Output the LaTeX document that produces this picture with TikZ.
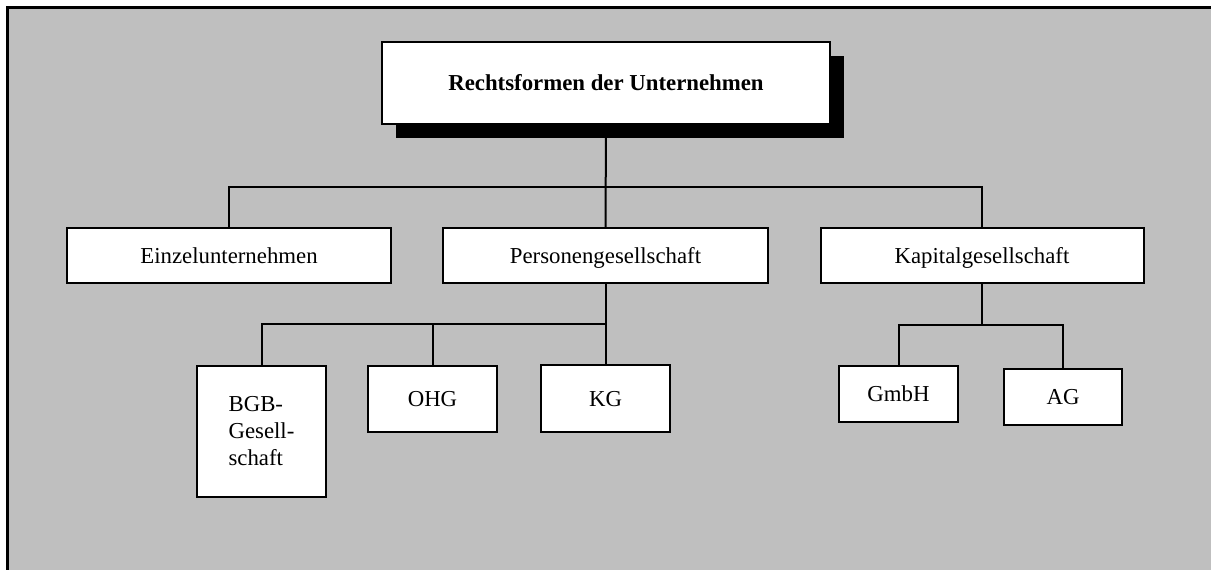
\documentclass[tikz,border=0pt]{standalone}
\usepackage{fontspec}
\setmainfont{Liberation Serif}
\usetikzlibrary{shadows}
\definecolor{panel}{RGB}{191,191,191}
\tikzset{
  orgbox/.style={draw=black,fill=white,line width=2pt,inner sep=0pt,
    font=\fontsize{22.8}{27}\selectfont},
  onebox/.style={orgbox,text height=15.5pt,text depth=0pt},
  link/.style={line width=2pt}
}

\begin{document}
\begin{tikzpicture}[x=1pt,y=-1pt]
  \useasboundingbox (0,0) rectangle (1211,570);
  % Grey panel with frame on two sides
  \fill[panel] (7,7) rectangle (1211,570);
  \draw[line width=3pt] (7,570) -- (7,7) -- (1211,7);

  % Top box
  \node[onebox,minimum width=448pt,minimum height=82pt,
        font=\fontsize{22.8}{27}\selectfont\bfseries,
        general shadow={shadow xshift=14pt,shadow yshift=-14pt,fill=black}]
    (rf) at (606,83) {Rechtsformen der Unternehmen};

  % First level
  \node[onebox,minimum width=324pt,minimum height=55pt]
    (einzel) at (229,255.5) {Einzelunternehmen};
  \node[onebox,minimum width=325pt,minimum height=55pt]
    (pers) at (605.5,255.5) {Personengesellschaft};
  \node[onebox,minimum width=323pt,minimum height=55pt]
    (kap) at (982,255.5) {Kapitalgesellschaft};

  % Second level
  \node[orgbox,minimum width=129pt,minimum height=131pt,align=left]
    (bgb) at (261.5,431.5) {BGB-\\Gesell-\\schaft};
  \node[onebox,minimum width=129pt,minimum height=66pt]
    (ohg) at (432.5,399) {OHG};
  \node[onebox,minimum width=129pt,minimum height=67pt]
    (kg) at (605.5,398.5) {KG};
  \node[onebox,minimum width=119pt,minimum height=56pt]
    (gmbh) at (898.5,394) {GmbH};
  \node[onebox,minimum width=118pt,minimum height=56pt]
    (ag) at (1063,397) {AG};

  % Connectors
  \coordinate (bus1) at (606,187);
  \coordinate (bus2) at (606,324);
  \coordinate (bus3) at (982,325);
  \draw[link] (rf.south) -- (pers.north);
  \draw[link] (einzel.north) |- (bus1) -| (kap.north);
  \draw[link] (pers.south) -- (kg.north);
  \draw[link] (bgb.north) |- (bus2);
  \draw[link] (ohg.north) -- (ohg.north |- bus2);
  \draw[link] (kap.south) -- (bus3);
  \draw[link] (gmbh.north) |- (bus3) -| (ag.north);
\end{tikzpicture}
\end{document}
